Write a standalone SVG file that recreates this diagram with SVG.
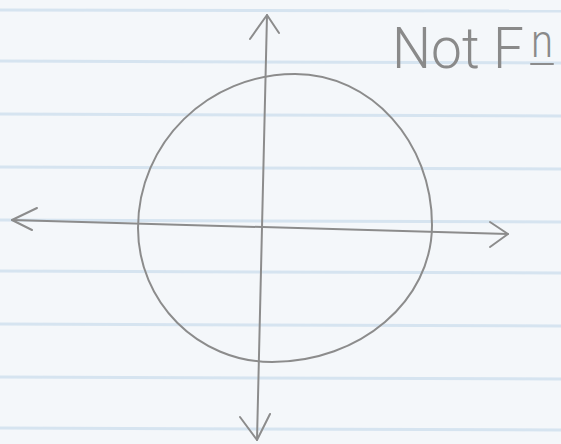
<svg xmlns="http://www.w3.org/2000/svg" width="561" height="444" viewBox="0 0 561 444">
<style>
.rule{stroke:#d6e4f0;stroke-width:3;}
.pen{fill:none;stroke:#8c8c8c;stroke-width:2;stroke-linecap:round;stroke-linejoin:round;}
.lbl{font-family:Roboto,"Liberation Sans",sans-serif;font-weight:300;fill:#8a8a8a;}
</style>
<rect width="561" height="444" fill="#f4f7fa"/>
<g id="paper-lines">
<line class="rule" x1="0" y1="10" x2="561" y2="11"/>
<line class="rule" x1="0" y1="61" x2="561" y2="63"/>
<line class="rule" x1="0" y1="114" x2="561" y2="116"/>
<line class="rule" x1="0" y1="167" x2="561" y2="169"/>
<line class="rule" x1="0" y1="220" x2="561" y2="222"/>
<line class="rule" x1="0" y1="271" x2="561" y2="273"/>
<line class="rule" x1="0" y1="324" x2="561" y2="326"/>
<line class="rule" x1="0" y1="377" x2="561" y2="379"/>
<line class="rule" x1="0" y1="428" x2="561" y2="430"/>
</g>
<g id="circle">
<path class="pen" d="M295,74 C371,74 432,142 432,225 C432,301 360,362 272,362 C198,362 138,302 138,228 C138,143 208,74 295,74 Z"/>
</g>
<g id="connectors">
<path class="pen" d="M267,15 L257,440"/>
<path class="pen" d="M250,39 L267,15 L279,33"/>
<path class="pen" d="M240,417 L257,440 L270,414"/>
<path class="pen" d="M12,220 L508,234"/>
<path class="pen" d="M37,208 L12,220 L32,230"/>
<path class="pen" d="M490,222 L508,234 L490,247"/>
</g>
<g id="label">
<text class="lbl" x="392" y="68" font-size="58" textLength="132" lengthAdjust="spacingAndGlyphs">Not F</text>
<text class="lbl" x="531" y="57" font-size="46" textLength="22" lengthAdjust="spacingAndGlyphs">n</text>
<line class="pen" x1="531" y1="64" x2="553" y2="64"/>
</g>
</svg>
